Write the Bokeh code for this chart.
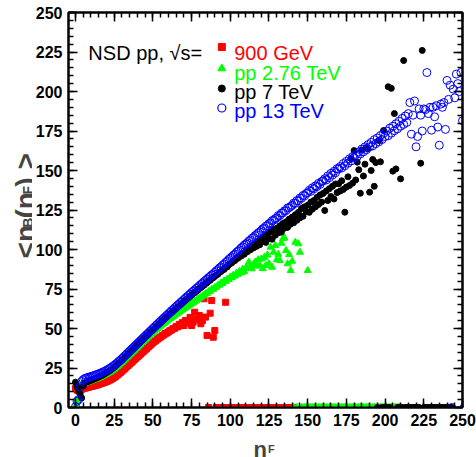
import math
from bokeh.plotting import figure
from bokeh.layouts import row, column
from bokeh.models import Label, LinearAxis, SingleIntervalTicker, Range1d, CustomJSTickFormatter
from bokeh.embed import file_html
from bokeh.resources import INLINE

# ---------------- data: <n_B> versus n_F ----------------
nf_900 = list(range(0, 98))
nb_900 = [12.0, 11.0, 10.5, 11.0, 11.5, 12.0, 12.2, 12.5, 12.7, 13.0,
          13.3, 13.5, 13.8, 14.0, 14.3, 14.6, 15.0, 15.3, 15.7, 16.0,
          16.4, 16.8, 17.3, 17.8, 18.4, 19.0, 19.7, 20.5, 21.3, 22.1,
          23.0, 23.9, 24.8, 25.7, 26.6, 27.5, 28.4, 29.3, 30.2, 31.1,
          32.0, 32.9, 33.8, 34.7, 35.6, 36.5, 37.4, 38.3, 39.2, 40.1,
          41.0, 41.8, 42.5, 43.3, 44.0, 44.6, 45.4, 45.9, 46.8, 47.2,
          47.8, 48.6, 49.0, 49.9, 50.1, 51.2, 51.0, 52.6, 51.8, 53.7,
          51.9, 55.0, 55.0, 53.5, 57.0, 51.9, 54.0, 60.3, 56.0, 55.5,
          58.2, 53.0, 55.0, 68.8, 57.2, 45.6, 0.0, 59.7, 67.7, 44.5,
          48.7, 0.0, 0.0, 0.0, 0.0, 0.0, 0.0, 66.6]
empty_900 = list(range(98, 142))

nf_276 = list(range(0, 151))
nb_276 = [1.0, 4.5, 12.0, 13.3, 14.5, 15.0, 15.4, 15.8, 16.1, 16.4,
          16.8, 17.1, 17.5, 17.9, 18.3, 18.7, 19.1, 19.6, 20.1, 20.6,
          21.1, 21.7, 22.3, 22.9, 23.6, 24.3, 25.1, 25.9, 26.8, 27.7,
          28.6, 29.6, 30.5, 31.5, 32.4, 33.4, 34.3, 35.3, 36.2, 37.2,
          38.1, 39.1, 40.0, 41.0, 41.9, 42.8, 43.8, 44.7, 45.6, 46.6,
          47.5, 48.3, 49.1, 50.0, 50.8, 51.6, 52.4, 53.2, 54.0, 54.7,
          55.5, 56.2, 56.9, 57.6, 58.3, 59.0, 59.7, 60.4, 61.1, 61.7,
          62.4, 63.1, 63.7, 64.5, 65.0, 65.8, 66.3, 67.1, 67.6, 68.5,
          69.2, 69.6, 70.6, 71.0, 72.0, 72.3, 73.4, 73.6, 74.8, 74.9,
          76.0, 76.3, 77.4, 77.5, 78.8, 78.6, 80.0, 79.8, 81.2, 80.9,
          82.5, 82.2, 83.8, 83.2, 85.0, 84.3, 86.2, 85.2, 87.5, 86.0,
          88.2, 88.5, 92.0, 89.0, 87.8, 90.5, 92.0, 89.5, 93.5, 90.0,
          94.0, 88.0, 95.0, 89.9, 96.5, 91.0, 101.5, 88.8, 98.3, 102.5,
          93.5, 97.0, 93.0, 104.0, 106.8, 107.4, 99.4, 91.0, 96.8, 86.7,
          92.6, 0.0, 104.6, 0.0, 103.6, 98.3, 0.0, 0.0, 0.0, 0.0, 86.7]
empty_276 = list(range(151, 211))

nf_7 = list(range(0, 225))
nb_7 = [16.0, 13.0, 10.5, 8.5, 6.0, 13.5, 15.6, 16.1, 16.5, 16.8,
        17.2, 17.6, 18.0, 18.4, 18.9, 19.3, 19.8, 20.3, 20.8, 21.4,
        22.0, 22.6, 23.2, 23.9, 24.7, 25.5, 26.3, 27.2, 28.1, 29.0,
        29.9, 30.9, 31.9, 32.8, 33.8, 34.8, 35.7, 36.7, 37.7, 38.7,
        39.6, 40.6, 41.5, 42.5, 43.4, 44.4, 45.3, 46.3, 47.2, 48.2,
        49.1, 50.0, 51.0, 51.9, 52.8, 53.7, 54.7, 55.5, 56.5, 57.3,
        58.3, 59.1, 60.0, 60.9, 61.8, 62.6, 63.5, 64.4, 65.2, 66.1,
        67.0, 67.8, 68.7, 69.4, 70.4, 71.0, 72.0, 72.7, 73.6, 74.2,
        75.2, 75.9, 76.8, 77.4, 78.4, 79.0, 80.0, 80.5, 81.6, 82.1,
        83.0, 83.8, 84.4, 85.5, 86.0, 87.1, 87.4, 88.8, 89.0, 90.3,
        91.0, 91.6, 92.8, 93.0, 94.4, 94.5, 96.0, 95.8, 97.6, 97.0,
        99.0, 98.5, 100.8, 99.8, 102.5, 101.0, 103.8, 102.0, 105.5, 103.0,
        106.5, 105.0, 108.2, 104.5, 109.5, 107.0, 111.0, 106.5, 112.6, 109.0,
        113.5, 110.5, 115.0, 111.0, 116.5, 113.5, 117.5, 114.0, 119.2, 116.0,
        120.5, 117.0, 122.0, 118.5, 123.5, 120.0, 126.0, 121.0, 127.0, 124.0,
        128.0, 123.5, 130.0, 125.5, 131.0, 127.0, 133.0, 128.5, 134.5, 130.0,
        135.5, 124.7, 137.0, 131.0, 138.5, 133.5, 140.0, 132.0, 141.5, 136.0,
        141.6, 137.0, 143.5, 138.0, 123.6, 139.5, 146.0, 140.5, 157.5, 142.0,
        162.6, 144.0, 155.3, 150.5, 135.6, 163.0, 146.5, 154.0, 164.5, 163.7,
        136.3, 150.0, 157.0, 140.0, 155.0, 0.0, 169.0, 155.5, 0.0, 175.3,
        0.0, 0.0, 203.0, 0.0, 202.0, 149.6, 186.0, 151.0, 0.0, 0.0,
        144.7, 0.0, 219.6, 0.0, 0.0, 0.0, 0.0, 0.0, 0.0, 0.0,
        0.0, 0.0, 0.0, 154.6, 226.0]
empty_7 = list(range(225, 244))

nf_13 = list(range(0, 252))
nb_13 = [0.5, 4.0, 5.0, 13.0, 16.5, 17.6, 18.3, 18.7, 19.0, 19.3,
         19.6, 19.9, 20.2, 20.6, 20.9, 21.3, 21.7, 22.1, 22.6, 23.0,
         23.5, 24.1, 24.7, 25.3, 26.0, 26.7, 27.5, 28.3, 29.2, 30.0,
         30.9, 31.9, 32.8, 33.8, 34.7, 35.7, 36.6, 37.6, 38.6, 39.5,
         40.5, 41.4, 42.4, 43.3, 44.3, 45.2, 46.2, 47.1, 48.1, 49.0,
         50.0, 50.9, 51.9, 52.8, 53.8, 54.6, 55.6, 56.5, 57.4, 58.4,
         59.3, 60.2, 61.2, 62.0, 63.0, 63.8, 64.8, 65.6, 66.6, 67.4,
         68.3, 69.2, 70.1, 71.0, 71.8, 72.7, 73.6, 74.4, 75.4, 76.1,
         77.0, 77.9, 78.7, 79.7, 80.4, 81.3, 82.2, 83.0, 83.9, 84.6,
         85.5, 86.5, 87.3, 88.3, 89.0, 90.0, 90.8, 91.8, 92.6, 93.7,
         94.5, 95.4, 96.4, 97.1, 98.2, 99.0, 99.8, 101.0, 101.7, 102.8,
         103.5, 104.2, 105.3, 106.0, 107.1, 107.6, 108.8, 109.4, 110.5, 111.1,
         112.0, 113.2, 113.5, 114.8, 115.2, 116.4, 116.8, 118.2, 118.6, 119.5,
         120.0, 121.5, 121.4, 123.0, 123.2, 124.5, 124.6, 126.3, 126.5, 127.2,
         128.0, 129.4, 129.2, 131.0, 130.8, 132.6, 132.4, 134.2, 134.0, 135.5,
         136.0, 137.5, 136.8, 139.0, 138.4, 140.3, 139.8, 141.9, 141.2, 143.0,
         143.5, 144.8, 144.0, 146.6, 145.5, 148.2, 147.1, 149.5, 148.6, 151.2,
         151.0, 152.5, 151.6, 154.4, 153.0, 155.8, 154.6, 157.4, 156.0, 158.8,
         158.0, 160.2, 158.8, 161.8, 160.5, 163.6, 161.8, 165.0, 163.2, 166.4,
         165.0, 167.8, 165.6, 169.5, 167.0, 170.6, 168.2, 172.2, 169.6, 173.5,
         171.5, 175.0, 172.0, 176.8, 173.6, 178.0, 175.2, 179.6, 176.4, 181.2,
         178.0, 183.0, 179.2, 184.5, 180.4, 186.0, 193.0, 173.0, 185.0, 194.0,
         165.0, 171.5, 189.0, 185.0, 175.0, 189.0, 188.5, 212.0, 186.0, 190.0,
         175.5, 190.0, 184.0, 191.0, 177.5, 166.0, 192.0, 190.0, 193.0, 176.0,
         207.0, 195.0, 204.0, 0.0, 201.5, 196.0, 211.0, 205.0, 200.0, 212.0,
         181.5, 0.0]

series_labels = ["900 GeV", "pp 2.76 TeV", "pp 7 TeV", "pp 13 TeV"]
tick_interval = 25
X_MIN, X_MAX = -4.5, 250
Y_MIN, Y_MAX = 0, 250

# ---------------- layout (window pixels) ----------------
WIN_W, WIN_H = 476, 457
FL, FT, FR, FB = 65, 12, 462, 407          # frame edges in window px
YT_W = 32                                  # strip holding the y title
MW, MH = WIN_W - YT_W, 432                 # main figure size
XT_TOP = MH
XT_H = WIN_H - MH                          # strip holding the x title
XT_SHIFT = 6                               # the column draws that strip a few px lower
XS = (FR - FL) / (X_MAX - X_MIN)
YS = (FB - FT) / (Y_MAX - Y_MIN)

def dx(wx):
    return X_MIN + (wx - FL) / XS

def dy(wy):
    return (FB - wy) / YS

RED, GREEN, BLACK, BLUE = "#ff0000", "#00ff00", "#000000", "#0000ff"
FONT = "Liberation Sans"

p = figure(width=MW, height=MH, x_range=Range1d(X_MIN, X_MAX), y_range=Range1d(Y_MIN, Y_MAX),
           output_backend="svg", toolbar_location=None, title=None,
           x_axis_location=None, y_axis_location=None,
           min_border_left=FL - YT_W, min_border_right=WIN_W - FR,
           min_border_top=FT, min_border_bottom=MH - FB)
p.background_fill_color = "white"
p.border_fill_color = "white"
p.outline_line_color = "black"
p.outline_line_width = 2
p.xgrid.visible = False
p.ygrid.visible = False

def make_axis(labels):
    ax = LinearAxis(ticker=SingleIntervalTicker(interval=tick_interval, num_minor_ticks=5))
    ax.axis_line_width = 2
    ax.major_tick_in = 9
    ax.major_tick_out = 0
    ax.minor_tick_in = 5
    ax.minor_tick_out = 0
    ax.major_tick_line_width = 1.5
    ax.minor_tick_line_width = 1.5
    if labels:
        ax.major_label_text_font = FONT
        ax.major_label_text_font_style = "bold"
        ax.major_label_text_font_size = "16px"
        ax.major_label_text_color = "black"
    else:
        ax.formatter = CustomJSTickFormatter(code="return ''")
        ax.major_label_standoff = 0
    return ax

xb = make_axis(True); xb.major_label_standoff = 6
yl = make_axis(True); yl.major_label_standoff = 6
p.add_layout(xb, "below")
p.add_layout(yl, "left")
p.add_layout(make_axis(False), "above")
p.add_layout(make_axis(False), "right")

# ---------------- data glyphs ----------------
p.scatter(nf_900, nb_900, marker="square", size=6, color=RED)
p.scatter(empty_900, [0.0] * len(empty_900), marker="square", size=6, color=RED)
p.scatter(nf_276, nb_276, marker="triangle", size=7, color=GREEN)
p.scatter(empty_276, [0.0] * len(empty_276), marker="triangle", size=7, color=GREEN)
p.scatter(nf_7, nb_7, marker="circle", size=6, color=BLACK)
p.scatter(empty_7, [0.0] * len(empty_7), marker="circle", size=6, color=BLACK)
p.scatter(nf_13, nb_13, marker="circle", size=8, fill_color=None, line_color=BLUE, line_width=1)

# ---------------- legend ----------------
p.add_layout(Label(x=dx(85), y=dy(52), text="NSD pp, \u221as=", text_font=FONT,
                   text_font_size="20px", text_color="black", text_baseline="alphabetic"))
key_x = dx(219.5)
key_y = [dy(46.5), dy(68), dy(88), dy(107.5)]
p.scatter([key_x], [key_y[0]], marker="square", size=7, color=RED)
p.scatter([key_x], [key_y[1]], marker="triangle", size=8, color=GREEN)
p.scatter([key_x], [key_y[2]], marker="circle", size=7, color=BLACK)
p.scatter([key_x], [key_y[3]], marker="circle", size=8, fill_color=None, line_color=BLUE, line_width=1.2)
text_base = [52, 72, 91.5, 110.5]
for lab, col, wy in zip(series_labels, [RED, GREEN, BLACK, BLUE], text_base):
    p.add_layout(Label(x=dx(232), y=dy(wy), text=lab, text_font=FONT, text_font_size="20px",
                       text_color=col, text_baseline="alphabetic"))

def strip(w, h, xr, yr):
    f = figure(width=w, height=h, x_range=Range1d(*xr), y_range=Range1d(*yr),
               output_backend="svg", toolbar_location=None, title=None,
               x_axis_location=None, y_axis_location=None,
               min_border_left=0, min_border_right=0, min_border_top=0, min_border_bottom=0)
    f.outline_line_color = None
    f.xgrid.visible = False
    f.ygrid.visible = False
    return f

# ---------------- y title strip: <n_B(n_F) > (window coordinates) ----------------
yt = strip(YT_W, MH, (0, YT_W), (MH, 0))
MAIN, SUB = 28, 14
pieces = [("<n", MAIN, 0), ("B", SUB, 1), ("(n", MAIN, 0), ("F", SUB, 1), (") >", MAIN, 0)]
em = {"<": 0.584, "n": 0.611, "(": 0.333, ")": 0.333, ">": 0.584, " ": 0.278, "B": 0.722, "F": 0.611}
pos = 269.0
base_x = 25.0
for txt, fs, sub in pieces:
    bx = base_x + (2.5 if sub else 0)
    yt.add_layout(Label(x=bx, y=pos, text=txt, text_font=FONT, text_font_size=f"{fs}px",
                        angle=math.pi / 2, text_baseline="alphabetic", text_align="left",
                        text_font_style="bold"))
    pos -= sum(em[c] for c in txt) * fs

# ---------------- x title strip: n_F (window coordinates) ----------------
xt = strip(WIN_W, XT_H, (0, WIN_W), (XT_TOP + XT_H, XT_TOP))
xt.add_layout(Label(x=253, y=454.5 - XT_SHIFT, text="n", text_font=FONT, text_font_size="22px",
                    text_font_style="bold", text_baseline="alphabetic"))
xt.add_layout(Label(x=267.5, y=454.0 - XT_SHIFT, text="F", text_font=FONT, text_font_size="11px",
                    text_font_style="bold", text_baseline="alphabetic"))

layout = column(row(yt, p), xt)
open("out.html", "w").write(file_html(layout, INLINE))
